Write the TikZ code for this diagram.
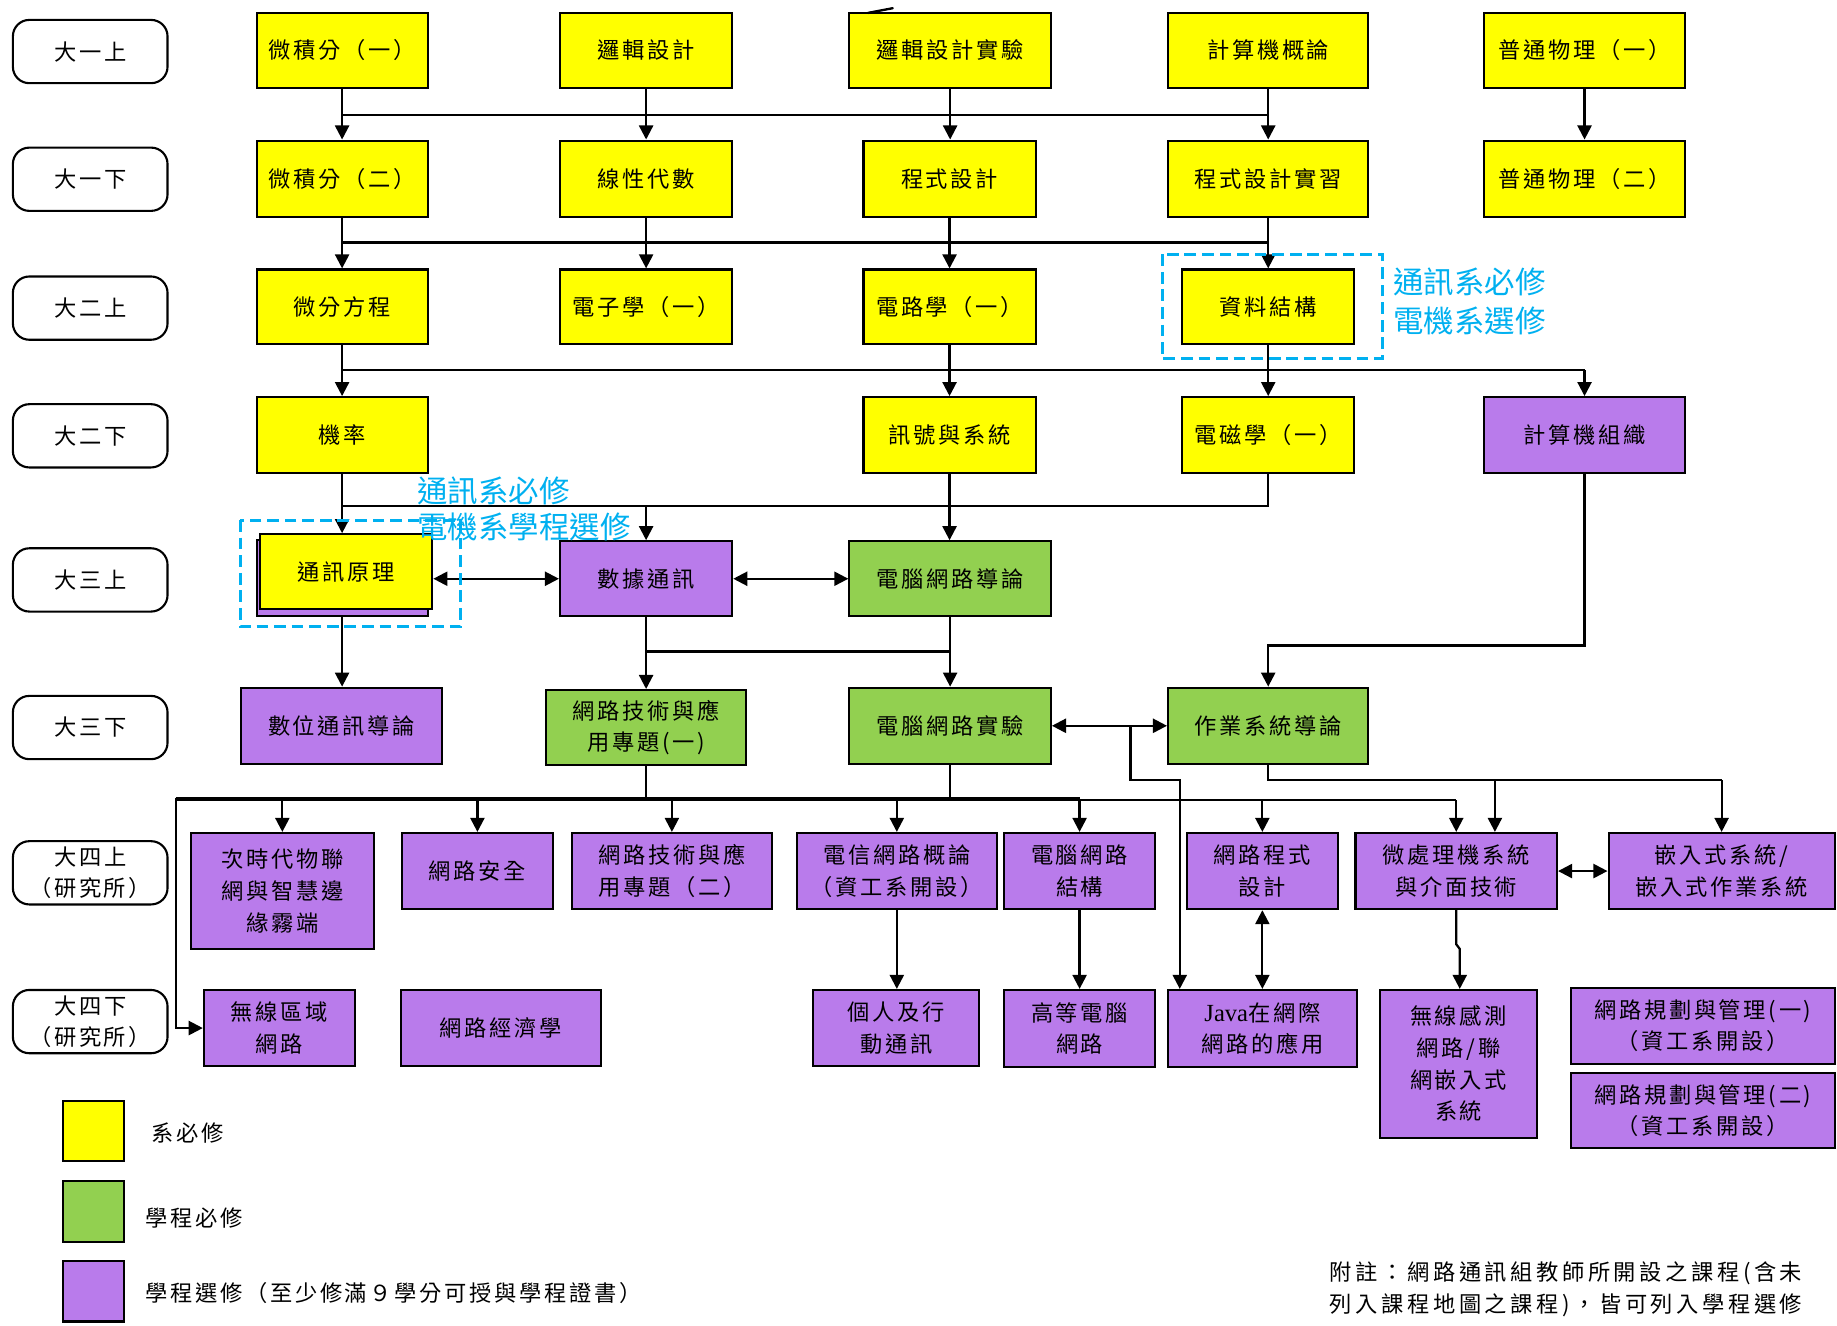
\documentclass[tikz,border=0pt]{standalone}
\usepackage{fontspec}
\setmainfont{Noto Sans CJK TC}
\newfontfamily\boxfont[LetterSpace=12]{Noto Sans CJK TC}
\newfontfamily\notefont[LetterSpace=16]{Noto Sans CJK TC}
\newfontfamily\bluefont{Noto Sans CJK TC}
\newfontfamily\latinfont{Liberation Serif}
\usetikzlibrary{arrows.meta}
\definecolor{cyel}{HTML}{FFFF00}
\definecolor{cgrn}{HTML}{92D050}
\definecolor{cpur}{HTML}{B97BEB}
\definecolor{cblu}{HTML}{00B0F0}
\newcommand\bx[7]{\node[#1, minimum width={#5-#3}, minimum height={#6-#4}] (#2) at ({(#3+#5)/2},{(#4+#6)/2}) {#7};}
\tikzset{
  box/.style={draw=black, line width=1.8pt, inner sep=0pt, align=center, text=black,
    font=\boxfont\fontsize{19}{27}\selectfont},
  ybox/.style={box, fill=cyel},
  gbox/.style={box, fill=cgrn},
  pbox/.style={box, fill=cpur},
  yrbox/.style={box, fill=white, rounded corners=14pt},
  conn/.style={line width=1.9pt},
  arr/.style={line width=1.9pt, -{Triangle[length=12pt,width=12pt]}},
  darr/.style={line width=1.9pt, {Triangle[length=12pt,width=12pt]}-{Triangle[length=12pt,width=12pt]}},
  dbox/.style={draw=cblu, line width=2.8pt, dash pattern=on 10pt off 5pt},
  bluetxt/.style={text=cblu, inner sep=0pt, anchor=west, font=\bluefont\fontsize{26}{30}\selectfont},
  legtxt/.style={inner sep=0pt, anchor=west, font=\boxfont\fontsize{19}{27}\selectfont},
  notetxt/.style={inner sep=0pt, anchor=west, font=\notefont\fontsize{19}{27}\selectfont}
}
\begin{document}
\begin{tikzpicture}[x=1pt,y=-1pt]
\useasboundingbox (0,0) rectangle (1568,1131);
% year labels
\bx{yrbox}{y1}{11}{17}{143}{71}{大一上}
\bx{yrbox}{y2}{11}{126}{143}{180}{大一下}
\bx{yrbox}{y3}{11}{236}{143}{290}{大二上}
\bx{yrbox}{y4}{11}{345}{143}{399}{大二下}
\bx{yrbox}{y5}{11}{468}{143}{522}{大三上}
\bx{yrbox}{y6}{11}{594}{143}{648}{大三下}
\bx{yrbox}{y7}{11}{718}{143}{772}{大四上\\（研究所）}
\bx{yrbox}{y8}{11}{845}{143}{899}{大四下\\（研究所）}
% row 1
\bx{ybox}{c11}{219}{11}{365}{75}{微積分（一）}
\bx{ybox}{c12}{478}{11}{625}{75}{邏輯設計}
\bx{ybox}{c13}{725}{11}{897}{75}{邏輯設計實驗}
\bx{ybox}{c14}{997}{11}{1168}{75}{計算機概論}
\bx{ybox}{c15}{1267}{11}{1438}{75}{普通物理（一）}
% row 2
\bx{ybox}{c21}{219}{120}{365}{185}{微積分（二）}
\bx{ybox}{c22}{478}{120}{625}{185}{線性代數}
\bx{ybox}{c23}{737}{120}{884}{185}{程式設計}
\bx{ybox}{c24}{997}{120}{1168}{185}{程式設計實習}
\bx{ybox}{c25}{1267}{120}{1438}{185}{普通物理（二）}
% row 3
\bx{ybox}{c31}{219}{230}{365}{294}{微分方程}
\bx{ybox}{c32}{478}{230}{625}{294}{電子學（一）}
\bx{ybox}{c33}{737}{230}{884}{294}{電路學（一）}
\bx{ybox}{c34}{1009}{230}{1156}{294}{資料結構}
% row 4
\bx{ybox}{c41}{219}{339}{365}{404}{機率}
\bx{ybox}{c43}{737}{339}{884}{404}{訊號與系統}
\bx{ybox}{c44}{1009}{339}{1156}{404}{電磁學（一）}
\bx{pbox}{c45}{1267}{339}{1438}{404}{計算機組織}
% row 5
\bx{pbox}{c51s}{219}{461}{365}{526}{}
\bx{ybox}{c51}{222}{456}{369}{520}{通訊原理}
\bx{pbox}{c52}{478}{462}{625}{526}{數據通訊}
\bx{gbox}{c53}{725}{462}{897}{526}{電腦網路導論}
% row 6
\bx{pbox}{c61}{206}{587}{377}{652}{數位通訊導論}
\bx{gbox}{c62}{466}{589}{637}{653}{網路技術與應\\用專題(一)}
\bx{gbox}{c63}{725}{587}{897}{652}{電腦網路實驗}
\bx{gbox}{c64}{997}{587}{1168}{652}{作業系統導論}
% row 7
\bx{pbox}{c71}{163}{711}{319}{810}{次時代物聯\\網與智慧邊\\緣霧端}
\bx{pbox}{c72}{343}{711}{472}{776}{網路安全}
\bx{pbox}{c73}{488}{711}{659}{776}{網路技術與應\\用專題（二）}
\bx{pbox}{c74}{680}{711}{851}{776}{電信網路概論\\（資工系開設）}
\bx{pbox}{c75}{857}{711}{986}{776}{電腦網路\\結構}
\bx{pbox}{c76}{1013}{711}{1142}{776}{網路程式\\設計}
\bx{pbox}{c77}{1157}{711}{1329}{776}{微處理機系統\\與介面技術}
\bx{pbox}{c78}{1373}{711}{1566}{776}{嵌入式系統/\\嵌入式作業系統}
% row 8
\bx{pbox}{c81}{174}{845}{303}{910}{無線區域\\網路}
\bx{pbox}{c82}{342}{845}{513}{910}{網路經濟學}
\bx{pbox}{c83}{694}{845}{836}{910}{個人及行\\動通訊}
\bx{pbox}{c84}{857}{845}{986}{911}{高等電腦\\網路}
\bx{pbox}{c85}{997}{845}{1158}{911}{{\latinfont\fontsize{21}{27}\selectfont Java}在網際\\網路的應用}
\bx{pbox}{c86}{1178}{845}{1312}{971}{無線感測\\網路/聯\\網嵌入式\\系統}
\bx{pbox}{c87}{1341}{843}{1566}{908}{網路規劃與管理(一)\\（資工系開設）}
\bx{pbox}{c88}{1341}{916}{1566}{980}{網路規劃與管理(二)\\（資工系開設）}
% legend
\bx{ybox}{l1}{54}{940}{106}{991}{}
\bx{gbox}{l2}{54}{1008}{106}{1060}{}
\bx{pbox}{l3}{54}{1076}{106}{1128}{}
\node[legtxt] (l1t) at (129,967) {系必修};
\node[legtxt] (l2t) at (124,1040) {學程必修};
\node[legtxt] (l3t) at (124,1104) {學程選修（至少修滿９學分可授與學程證書）};
\node[notetxt] (n1) at (1135,1087) {附註：網路通訊組教師所開設之課程(含未};
\node[notetxt] (n2) at (1135,1114) {列入課程地圖之課程)，皆可列入學程選修};
% bus levels
\coordinate (b1) at (0,98);
\coordinate (b2) at (0,207);
\coordinate (b3) at (0,316);
\coordinate (b4) at (0,432);
\coordinate (b5) at (0,556);
\coordinate (b6) at (0,551);
\coordinate (b7a) at (0,681);
\coordinate (b7b) at (0,683);
\coordinate (b8) at (0,666);
\coordinate (lx) at (150,0);
\coordinate (jx) at (965,0);
\coordinate (jx2) at (1007,0);
\coordinate (mx) at (1276,0);
\coordinate (jga) at (1243,806);
\coordinate (jgb) at (1246,810);
% row1 -> row2
\draw[conn] (c11.south |- b1) -- (c14.south |- b1);
\draw[arr] (c11.south) -- (c11.south |- c21.north);
\draw[arr] (c12.south) -- (c12.south |- c22.north);
\draw[arr] (c13.south) -- (c13.south |- c23.north);
\draw[arr] (c14.south) -- (c14.south |- c24.north);
\draw[arr] (c15.south) -- (c15.south |- c25.north);
% row2 -> row3
\draw[conn] (c21.south |- b2) -- (c24.south |- b2);
\draw[arr] (c21.south) -- (c21.south |- c31.north);
\draw[arr] (c22.south) -- (c22.south |- c32.north);
\draw[arr] (c23.south) -- (c23.south |- c33.north);
\draw[arr] (c24.south) -- (c24.south |- c34.north);
% row3 -> row4
\draw[conn] (c31.south |- b3) -- (c45.north |- b3);
\draw[arr] (c31.south) -- (c31.south |- c41.north);
\draw[arr] (c33.south) -- (c33.south |- c43.north);
\draw[arr] (c34.south) -- (c34.south |- c44.north);
\draw[arr] (c45.north |- b3) -- (c45.north);
% row4 -> row5
\draw[conn] (c44.south) |- (c41.south |- b4);
\draw[arr] (c41.south) -- (c41.south |- c51.north);
\draw[arr] (c52.north |- b4) -- (c52.north);
\draw[arr] (c43.south) -- (c43.south |- c53.north);
\draw[arr] (c45.south) |- (c64.north |- b6) -- (c64.north);
% row5
\draw[darr] (c52.west -| c51.east) -- (c52.west);
\draw[darr] (c52.east) -- (c53.west);
% row5 -> row6
\draw[arr] (c51s.south) -- (c51s.south |- c61.north);
\draw[arr] (c52.south) -- (c52.south |- c62.north);
\draw[conn] (c52.south |- b5) -- (c53.south |- b5);
\draw[arr] (c53.south) -- (c53.south |- c63.north);
% row6
\draw[darr] (c63.east) -- (c64.west);
\draw[arr] (c63.east -| jx) -- (jx |- b8) -- (jx2 |- b8) -- (jx2 |- c85.north);
\draw[conn] (c64.south) |- (c78.north |- b8);
\draw[arr] (mx |- b8) -- (mx |- c77.north);
\draw[arr] (c78.north |- b8) -- (c78.north);
% row6 -> row7
\draw[conn] (c62.south) -- (c62.south |- b7a);
\draw[conn] (lx |- b7a) -- (c75.north |- b7a);
\draw[conn] (c63.south) -- (c63.south |- b7b);
\draw[conn] (lx |- b7b) -- (c77.north |- b7b);
\draw[arr] (c71.north |- b7b) -- (c71.north);
\draw[arr] (c72.north |- b7b) -- (c72.north);
\draw[arr] (c73.north |- b7b) -- (c73.north);
\draw[arr] (c74.north |- b7b) -- (c74.north);
\draw[arr] (c75.north |- b7b) -- (c75.north);
\draw[arr] (c76.north |- b7b) -- (c76.north);
\draw[arr] (c77.north |- b7b) -- (c77.north);
\draw[arr] (lx |- b7a) |- (c81.west);
% row7 -> row8
\draw[arr] (c74.south) -- (c74.south |- c83.north);
\draw[arr] (c75.south) -- (c75.south |- c84.north);
\draw[darr] (c76.south) -- (c76.south |- c85.north);
\draw[arr] (c77.south) -- (jga) -- (jgb) -- (jgb |- c86.north);
\draw[darr] (c77.east) -- (c78.west);
% dashed highlights
\draw[dbox] (992,217) rectangle (1180,306);
\draw[dbox] (205,444) rectangle (393,535);
\node[bluetxt] (t1a) at (1189,241) {通訊系必修};
\node[bluetxt] (t1b) at (1189,274) {電機系選修};
\node[bluetxt] (t2a) at (356,419) {通訊系必修};
\node[bluetxt] (t2b) at (356,450) {電機系學程選修};
% small stray mark above 邏輯設計實驗
\draw[line width=2pt, line cap=round] (741,11) .. controls (752,9) .. (762,7);
\end{tikzpicture}
\end{document}
